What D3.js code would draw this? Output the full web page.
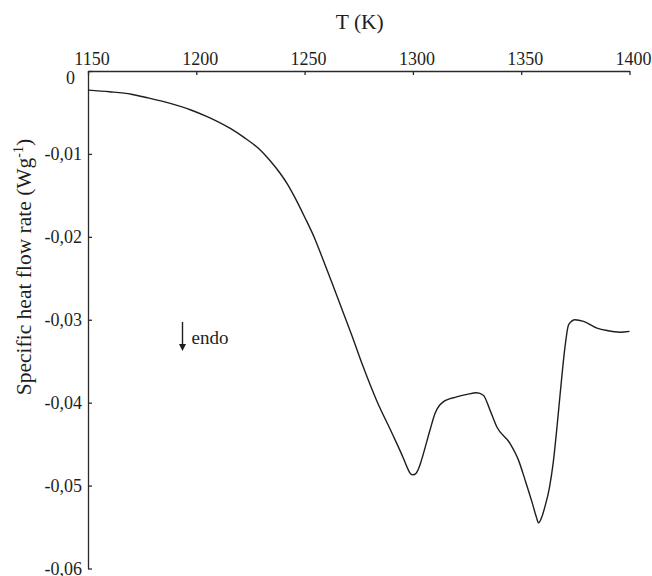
<!DOCTYPE html>
<html>
<head>
<meta charset="utf-8">
<script src="https://cdn.jsdelivr.net/npm/d3@7"></script>
<style>
  html, body { margin: 0; padding: 0; background: #fff; }
  svg { display: block; }
  text { font-family: "Liberation Serif", "Times New Roman", serif; fill: #1e1e1e; }
</style>
</head>
<body>
<svg id="chart" width="652" height="576"></svg>
<script>
// Temperature (K)
const temperature = [
  1150, 1160, 1170, 1177, 1185, 1197.5, 1205, 1215.5, 1222, 1229.4, 1234, 1238.6,
  1242, 1245, 1250, 1255, 1258, 1261.7, 1265.6, 1271.7, 1277.1, 1283.2, 1290.2,
  1295.6, 1297.5, 1299, 1300, 1301.5, 1303, 1304, 1307.9, 1310.2, 1314, 1320.2,
  1325, 1329.4, 1332.5, 1335.6, 1338.7, 1344.8, 1348.7, 1352, 1355, 1357, 1358,
  1359.5, 1361, 1363, 1364.8, 1366.5, 1368, 1370.4, 1371.9, 1374.9, 1378.8, 1385, 1389.6,
  1395.7, 1400
];
// Specific heat flow rate (W g^-1)
const heatFlow = [
  -0.0023, -0.0025, -0.0028, -0.0032, -0.0037, -0.0047, -0.0055, -0.0069, -0.0080, -0.0095, -0.0108, -0.0123,
  -0.0136, -0.0150, -0.0176, -0.0204, -0.0224, -0.0249, -0.0276, -0.0318, -0.0357, -0.0397, -0.0436,
  -0.0467, -0.0479, -0.0486, -0.0487, -0.0485, -0.0477, -0.0469, -0.0433, -0.0413, -0.0399, -0.0393,
  -0.0390, -0.0388, -0.0391, -0.0409, -0.0429, -0.0449, -0.0469, -0.0495, -0.0520, -0.0538, -0.0545,
  -0.0538, -0.0525, -0.0503, -0.0472, -0.0430, -0.0389, -0.0329, -0.0306, -0.0300, -0.0302, -0.0310, -0.0313,
  -0.0315, -0.0314
];
const xTicks = [1150, 1200, 1250, 1300, 1350, 1400];
const yTicks = [0, -0.01, -0.02, -0.03, -0.04, -0.05, -0.06];
const xTitle = "T (K)";
const yTitle = "Specific heat flow rate (Wg";
const yTitleSup = "-1";
const annotation = "endo";

const svg = d3.select("#chart");
const mLeft = 88, mRight = 629.5, mTop = 71, mBottom = 568.5;

const x = d3.scaleLinear().domain([1150, 1400]).range([mLeft, mRight]);
const y = d3.scaleLinear().domain([-0.06, 0]).range([mBottom, mTop]);

const fmtY = v => v === 0 ? "0" : d3.format(".2f")(v).replace(".", ",").replace("\u2212", "-");

const xAxis = d3.axisTop(x).tickValues(xTicks).tickFormat(d3.format("d"))
  .tickSizeInner(-4).tickSizeOuter(0).tickPadding(6);
const yAxis = d3.axisLeft(y).tickValues(yTicks).tickFormat(fmtY)
  .tickSizeInner(-4).tickSizeOuter(0).tickPadding(6);

const gx = svg.append("g").attr("transform", `translate(0,${mTop})`).call(xAxis);
const gy = svg.append("g").attr("transform", `translate(${mLeft},0)`).call(yAxis);

[gx, gy].forEach(g => {
  g.select(".domain").attr("stroke", "#2a2a2a").attr("stroke-width", 1.3);
  g.selectAll(".tick line").attr("stroke", "#2a2a2a").attr("stroke-width", 1.3);
  g.selectAll(".tick text").attr("font-size", 18).attr("fill", "#1e1e1e");
});
gx.selectAll(".tick text").attr("dx", 3.5);
// the "0" label sits slightly lower and left of its tick
gy.selectAll(".tick").filter(d => d === 0).select("text").attr("x", -13).attr("dy", "0.72em");

// Line
const data = temperature.map((t, i) => [t, heatFlow[i]]);
svg.append("path")
  .datum(data)
  .attr("fill", "none")
  .attr("stroke", "#1e1e1e")
  .attr("stroke-width", 1.4)
  .attr("d", d3.line().x(d => x(d[0])).y(d => y(d[1])).curve(d3.curveMonotoneX));

// Titles
svg.append("text")
  .attr("x", (mLeft + mRight) / 2 + 1)
  .attr("y", 29)
  .attr("text-anchor", "middle")
  .attr("font-size", 21.5)
  .text(xTitle);

const yt = svg.append("text")
  .attr("transform", `translate(31,${267}) rotate(-90)`)
  .attr("text-anchor", "middle")
  .attr("font-size", 21.5);
yt.append("tspan").text(yTitle);
yt.append("tspan").attr("font-size", 14).attr("dy", -8).text(yTitleSup);
yt.append("tspan").attr("dy", 8).text(")");

// endo arrow
const ax = 182.5, ay1 = 322, ay2 = 351;
svg.append("line").attr("x1", ax).attr("x2", ax).attr("y1", ay1).attr("y2", ay2 - 5)
  .attr("stroke", "#1e1e1e").attr("stroke-width", 1.4);
svg.append("path")
  .attr("d", `M${ax - 3.5},${ay2 - 7} L${ax + 3.5},${ay2 - 7} L${ax},${ay2} Z`)
  .attr("fill", "#1e1e1e");
svg.append("text").attr("x", 191.5).attr("y", 344).attr("font-size", 19).text(annotation);
</script>
</body>
</html>
